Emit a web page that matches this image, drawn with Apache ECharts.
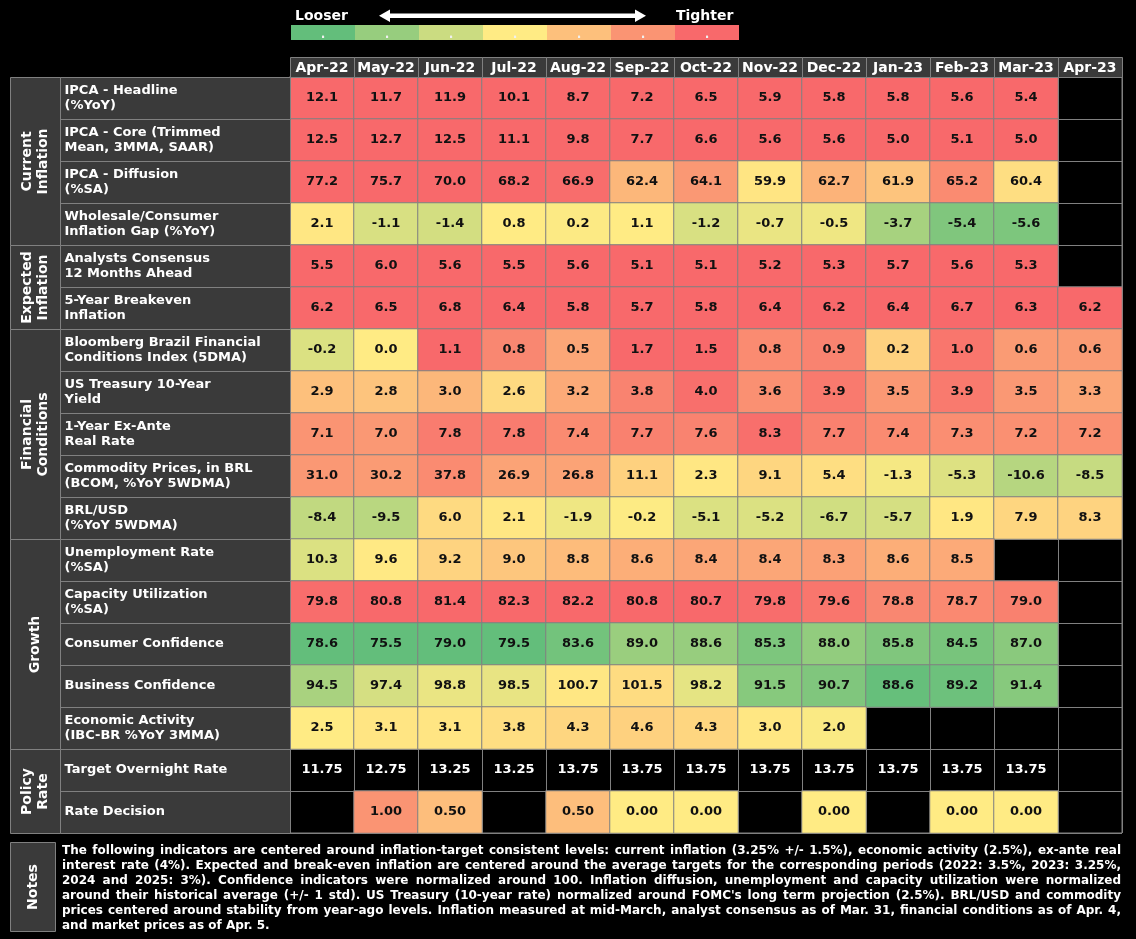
<!DOCTYPE html>
<html><head><meta charset="utf-8">
<script src="https://cdn.jsdelivr.net/npm/echarts@6/dist/echarts.min.js"></script>
<style>html,body{margin:0;padding:0;background:#000;}#chart{width:1136px;height:939px;}</style>
</head><body><div id="chart"></div>
<script>
// ---------- DATA ----------
const months = ['Apr-22','May-22','Jun-22','Jul-22','Aug-22','Sep-22','Oct-22','Nov-22','Dec-22','Jan-23','Feb-23','Mar-23','Apr-23'];

const rowLabels = [
  'IPCA - Headline\n(%YoY)',
  'IPCA - Core (Trimmed\nMean, 3MMA, SAAR)',
  'IPCA - Diffusion\n(%SA)',
  'Wholesale/Consumer\nInflation Gap (%YoY)',
  'Analysts Consensus\n12 Months Ahead',
  '5-Year Breakeven\nInflation',
  'Bloomberg Brazil Financial\nConditions Index (5DMA)',
  'US Treasury 10-Year\nYield',
  '1-Year Ex-Ante\nReal Rate',
  'Commodity Prices, in BRL\n(BCOM, %YoY 5WDMA)',
  'BRL/USD\n(%YoY 5WDMA)',
  'Unemployment Rate\n(%SA)',
  'Capacity Utilization\n(%SA)',
  'Consumer Confidence',
  'Business Confidence',
  'Economic Activity\n(IBC-BR %YoY 3MMA)',
  'Target Overnight Rate',
  'Rate Decision'
];

const groupNames = ['Current\nInflation','Expected\nInflation','Financial\nConditions','Growth','Policy\nRate'];
const groupFirstRow = [0, 4, 6, 11, 16];
const groupLastRow  = [3, 5, 10, 15, 17];

// values (null = not available) and tone (0 = looser/green ... 6 = tighter/red)
const ipcaHeadline      = [12.1,11.7,11.9,10.1,8.7,7.2,6.5,5.9,5.8,5.8,5.6,5.4,null];
const ipcaHeadlineTone  = [6,6,6,6,6,6,6,6,6,6,6,6,null];
const ipcaCore          = [12.5,12.7,12.5,11.1,9.8,7.7,6.6,5.6,5.6,5.0,5.1,5.0,null];
const ipcaCoreTone      = [6,6,6,6,6,6,6,6,6,6,6,6,null];
const ipcaDiffusion     = [77.2,75.7,70.0,68.2,66.9,62.4,64.1,59.9,62.7,61.9,65.2,60.4,null];
const ipcaDiffusionTone = [6,6,6,6,5.9,4.2,4.9,3.15,4.3,3.9,5.2,3.3,null];
const wholesaleGap      = [2.1,-1.1,-1.4,0.8,0.2,1.1,-1.2,-0.7,-0.5,-3.7,-5.4,-5.6,null];
const wholesaleGapTone  = [3.1,2.25,2.15,3.0,2.95,3.0,2.25,2.6,2.7,1.3,0.55,0.5,null];
const analystsCons      = [5.5,6.0,5.6,5.5,5.6,5.1,5.1,5.2,5.3,5.7,5.6,5.3,null];
const analystsConsTone  = [6,6,6,6,6,6,6,6,6,6,6,6,null];
const breakeven5y       = [6.2,6.5,6.8,6.4,5.8,5.7,5.8,6.4,6.2,6.4,6.7,6.3,6.2];
const breakeven5yTone   = [6,6,6,6,6,6,6,6,6,6,6,6,6];
const bbgFci            = [-0.2,0.0,1.1,0.8,0.5,1.7,1.5,0.8,0.9,0.2,1.0,0.6,0.6];
const bbgFciTone        = [2.3,3.0,6,5.3,4.6,6,6,5.2,5.4,3.6,5.7,4.85,4.85];
const ust10y            = [2.9,2.8,3.0,2.6,3.2,3.8,4.0,3.6,3.9,3.5,3.9,3.5,3.3];
const ust10yTone        = [4.0,3.9,4.2,3.4,4.5,5.4,5.85,5.1,5.6,4.9,5.6,4.9,4.6];
const realRate1y        = [7.1,7.0,7.8,7.8,7.4,7.7,7.6,8.3,7.7,7.4,7.3,7.2,7.2];
const realRate1yTone    = [5.0,4.9,5.55,5.55,5.2,5.45,5.4,5.85,5.45,5.2,5.15,5.1,5.1];
const commodityBrl      = [31.0,30.2,37.8,26.9,26.8,11.1,2.3,9.1,5.4,-1.3,-5.3,-10.6,-8.5];
const commodityBrlTone  = [4.9,4.85,5.2,4.65,4.65,3.6,3.1,3.5,3.3,2.8,2.35,1.6,1.9];
const brlUsd            = [-8.4,-9.5,6.0,2.1,-1.9,-0.2,-5.1,-5.2,-6.7,-5.7,1.9,7.9,8.3];
const brlUsdTone        = [1.8,1.65,3.4,3.1,2.7,2.97,2.3,2.3,2.1,2.2,3.1,3.5,3.55];
const unemployment      = [10.3,9.6,9.2,9.0,8.8,8.6,8.4,8.4,8.3,8.6,8.5,null,null];
const unemploymentTone  = [2.3,3.05,3.55,3.85,4.1,4.4,4.6,4.6,4.7,4.4,4.5,null,null];
const capacityUtil      = [79.8,80.8,81.4,82.3,82.2,80.8,80.7,79.8,79.6,78.8,78.7,79.0,null];
const capacityUtilTone  = [5.9,6,6,6,6,6,6,5.9,5.7,5.3,5.25,5.45,null];
const consumerConf      = [78.6,75.5,79.0,79.5,83.6,89.0,88.6,85.3,88.0,85.8,84.5,87.0,null];
const consumerConfTone  = [0,0,0,0,0.3,1.05,1.0,0.5,0.9,0.55,0.4,0.75,null];
const businessConf      = [94.5,97.4,98.8,98.5,100.7,101.5,98.2,91.5,90.7,88.6,89.2,91.4,null];
const businessConfTone  = [1.35,2.2,2.6,2.55,3.1,3.35,2.5,0.7,0.55,0.05,0.2,0.7,null];
const econActivity      = [2.5,3.1,3.1,3.8,4.3,4.6,4.3,3.0,2.0,null,null,null,null];
const econActivityTone  = [3.0,3.15,3.15,3.3,3.5,3.6,3.5,3.1,2.9,null,null,null,null];
const targetRate        = [11.75,12.75,13.25,13.25,13.75,13.75,13.75,13.75,13.75,13.75,13.75,13.75,null];
const targetRateTone    = [null,null,null,null,null,null,null,null,null,null,null,null,null];
const rateDecision      = [null,1.00,0.50,null,0.50,0.00,0.00,null,0.00,null,0.00,0.00,null];
const rateDecisionTone  = [null,5.0,4.05,null,4.05,3.0,3.0,null,3.0,null,3.0,3.0,null];

const rowValues = [ipcaHeadline, ipcaCore, ipcaDiffusion, wholesaleGap, analystsCons, breakeven5y,
  bbgFci, ust10y, realRate1y, commodityBrl, brlUsd, unemployment, capacityUtil, consumerConf,
  businessConf, econActivity, targetRate, rateDecision];
const rowTones = [ipcaHeadlineTone, ipcaCoreTone, ipcaDiffusionTone, wholesaleGapTone, analystsConsTone, breakeven5yTone,
  bbgFciTone, ust10yTone, realRate1yTone, commodityBrlTone, brlUsdTone, unemploymentTone, capacityUtilTone, consumerConfTone,
  businessConfTone, econActivityTone, targetRateTone, rateDecisionTone];
const rowDecimals = [1,1,1,1,1,1,1,1,1,1,1,1,1,1,1,1,2,2];

const scaleSteps = [0,1,2,3,4,5,6];
const scaleColors = ['#63BE7B','#97CD7E','#CBDC81','#FFEB84','#FDC07C','#FA9473','#F8696B'];

const noteLines = [
  'The following indicators are centered around inflation-target consistent levels: current inflation (3.25% +/- 1.5%), economic activity (2.5%), ex-ante real',
  'interest rate (4%). Expected and break-even inflation are centered around the average targets for the corresponding periods (2022: 3.5%, 2023: 3.25%,',
  '2024 and 2025: 3%). Confidence indicators were normalized around 100. Inflation diffusion, unemployment and capacity utilization were normalized',
  "around their historical average (+/- 1 std). US Treasury (10-year rate) normalized around FOMC's long term projection (2.5%). BRL/USD and commodity",
  'prices centered around stability from year-ago levels. Inflation measured at mid-March, analyst consensus as of Mar. 31, financial conditions as of Apr. 4,',
  'and market prices as of Apr. 5.'
];

// ---------- BUILD ----------
const FONT = "'DejaVu Sans', Verdana, sans-serif";
const CELL_BG = '#3a3a3a';
const LINE = '#808080';

const heatData = [];
const plainData = [];
rowValues.forEach((vals, r) => {
  vals.forEach((v, c) => {
    if (v === null) return;
    const t = rowTones[r][c];
    const txt = v.toFixed(rowDecimals[r]);
    if (t === null) plainData.push([c, r, txt]);
    else heatData.push([c, r, t, txt]);
  });
});

const chart = echarts.init(document.getElementById('chart'), null, {renderer: 'canvas'});

const hiddenAxis = (extra) => Object.assign({show: false}, extra);

// notes with justified lines
const measureCtx = document.createElement('canvas').getContext('2d');
const noteLeft = 62, noteRight = 1121, noteTop = 851, noteLH = 15;
let noteSize = 12;
let noteFont = 'bold ' + noteSize + 'px ' + FONT;
measureCtx.font = noteFont;
const maxNatural = Math.max.apply(null, noteLines.slice(0, -1).map(l => measureCtx.measureText(l).width));
if (maxNatural > noteRight - noteLeft) {
  noteSize = Math.floor(noteSize * (noteRight - noteLeft) / maxNatural * 10) / 10;
  noteFont = 'bold ' + noteSize + 'px ' + FONT;
  measureCtx.font = noteFont;
}
const noteGraphics = [];
noteLines.forEach((line, i) => {
  const words = line.split(' ');
  const y = noteTop + i * noteLH;
  const widths = words.map(w => measureCtx.measureText(w).width);
  const total = widths.reduce((a, b) => a + b, 0);
  const isLast = i === noteLines.length - 1;
  const space = isLast ? measureCtx.measureText(' ').width : (noteRight - noteLeft - total) / (words.length - 1);
  let x = noteLeft;
  words.forEach((w, k) => {
    noteGraphics.push({type: 'text', x: x, y: y, style: {text: w, fill: '#fff', font: noteFont, verticalAlign: 'middle', align: 'left'}});
    x += widths[k] + space;
  });
});

const option = {
  backgroundColor: '#000',
  animation: false,
  grid: [
    {left: 290, top: 77, width: 832, height: 756, show: true, borderColor: LINE, borderWidth: 1, backgroundColor: 'transparent'},
    {left: 60, top: 77, width: 230, height: 756},
    {left: 10, top: 77, width: 50, height: 756},
    {left: 290, top: 57, width: 832, height: 20},
    {left: 291, top: 25, width: 448, height: 15}
  ],
  xAxis: [
    {type: 'category', gridIndex: 0, data: months, axisLine: {show: false}, axisTick: {show: false}, axisLabel: {show: false},
     splitLine: {show: true, interval: 0, lineStyle: {color: LINE, width: 1}}},
    hiddenAxis({type: 'category', gridIndex: 1, data: ['label']}),
    hiddenAxis({type: 'category', gridIndex: 2, data: ['group']}),
    hiddenAxis({type: 'category', gridIndex: 3, data: months}),
    hiddenAxis({type: 'category', gridIndex: 4, data: scaleSteps.map(String)})
  ],
  yAxis: [
    {type: 'category', gridIndex: 0, data: rowLabels, inverse: true, axisLine: {show: false}, axisTick: {show: false}, axisLabel: {show: false},
     splitLine: {show: true, interval: 0, lineStyle: {color: LINE, width: 1}}},
    hiddenAxis({type: 'category', gridIndex: 1, data: rowLabels, inverse: true}),
    hiddenAxis({type: 'category', gridIndex: 2, data: rowLabels, inverse: true}),
    hiddenAxis({type: 'category', gridIndex: 3, data: ['header']}),
    hiddenAxis({type: 'category', gridIndex: 4, data: ['scale']})
  ],
  visualMap: {
    type: 'continuous', show: false, min: 0, max: 6, dimension: 2, seriesIndex: [0, 5],
    inRange: {color: scaleColors}
  },
  series: [
    {
      type: 'heatmap', xAxisIndex: 0, yAxisIndex: 0, data: heatData,
      itemStyle: {borderColor: LINE, borderWidth: 1},
      label: {show: true, formatter: p => p.value[3], color: '#111', fontFamily: FONT, fontWeight: 'bold', fontSize: 13},
      emphasis: {disabled: true}
    },
    {
      type: 'custom', xAxisIndex: 0, yAxisIndex: 0, data: plainData, encode: {x: 0, y: 1},
      renderItem: (params, api) => {
        const c = api.coord([api.value(0), api.value(1)]);
        return {type: 'text', x: c[0], y: c[1], style: {text: plainData[params.dataIndex][2], fill: '#fff',
          fontFamily: FONT, fontWeight: 'bold', fontSize: 13, align: 'center', verticalAlign: 'middle'}};
      }
    },
    {
      type: 'custom', xAxisIndex: 1, yAxisIndex: 1, data: rowLabels.map((l, i) => [0, i]), encode: {x: 0, y: 1},
      renderItem: (params, api) => {
        const c = api.coord([0, api.value(1)]);
        const s = api.size([1, 1]);
        const x = Math.round(c[0] - s[0] / 2) + 0.5, y = Math.round(c[1] - s[1] / 2) + 0.5;
        return {type: 'group', children: [
          {type: 'rect', shape: {x: x, y: y, width: s[0], height: s[1]}, style: {fill: CELL_BG, stroke: LINE, lineWidth: 1}},
          {type: 'text', x: x + 4, y: c[1], style: {text: rowLabels[params.dataIndex], fill: '#fff', fontFamily: FONT,
            fontWeight: 'bold', fontSize: 13, lineHeight: 15, align: 'left', verticalAlign: 'middle'}}
        ]};
      }
    },
    {
      type: 'custom', xAxisIndex: 2, yAxisIndex: 2, data: groupNames.map((g, i) => [0, groupFirstRow[i], groupLastRow[i]]),
      encode: {x: 0, y: [1, 2]},
      renderItem: (params, api) => {
        const a = api.coord([0, api.value(1)]);
        const b = api.coord([0, api.value(2)]);
        const s = api.size([1, 1]);
        const x = Math.round(a[0] - s[0] / 2) + 0.5;
        const y = Math.round(a[1] - s[1] / 2) + 0.5;
        const h = Math.round(b[1] + s[1] / 2) - Math.round(a[1] - s[1] / 2);
        return {type: 'group', children: [
          {type: 'rect', shape: {x: x, y: y, width: s[0], height: h}, style: {fill: CELL_BG, stroke: LINE, lineWidth: 1}},
          {type: 'text', x: a[0], y: y + h / 2, rotation: Math.PI / 2, style: {text: groupNames[params.dataIndex], fill: '#fff',
            fontFamily: FONT, fontWeight: 'bold', fontSize: 14, lineHeight: 16, align: 'center', verticalAlign: 'middle'}}
        ]};
      }
    },
    {
      type: 'custom', xAxisIndex: 3, yAxisIndex: 3, data: months.map((m, i) => [i, 0]), encode: {x: 0, y: 1},
      renderItem: (params, api) => {
        const c = api.coord([api.value(0), 0]);
        const s = api.size([1, 1]);
        const x = Math.round(c[0] - s[0] / 2) + 0.5, y = Math.round(c[1] - s[1] / 2) + 0.5;
        return {type: 'group', children: [
          {type: 'rect', shape: {x: x, y: y, width: s[0], height: s[1]}, style: {fill: CELL_BG, stroke: LINE, lineWidth: 1}},
          {type: 'text', x: c[0], y: c[1] + 1, style: {text: months[params.dataIndex], fill: '#fff', fontFamily: FONT,
            fontWeight: 'bold', fontSize: 14, align: 'center', verticalAlign: 'middle'}}
        ]};
      }
    },
    {
      type: 'custom', xAxisIndex: 4, yAxisIndex: 4, data: scaleSteps.map((v, i) => [i, 0, v]), encode: {x: 0, y: 1},
      renderItem: (params, api) => {
        const c = api.coord([api.value(0), 0]);
        const s = api.size([1, 1]);
        return {type: 'group', children: [
          {type: 'rect', shape: {x: c[0] - s[0] / 2, y: c[1] - s[1] / 2, width: s[0], height: s[1]}, style: {fill: api.visual('color')}},
          {type: 'text', x: c[0], y: c[1] + 2, style: {text: '.', fill: '#f0f0f0', fontFamily: FONT, fontWeight: 'bold', fontSize: 12,
            align: 'center', verticalAlign: 'middle'}}
        ]};
      }
    }
  ],
  graphic: [
    {type: 'text', x: 295, y: 16, style: {text: 'Looser', fill: '#fff', font: 'bold 14px ' + FONT, verticalAlign: 'middle'}},
    {type: 'text', x: 676, y: 16, style: {text: 'Tighter', fill: '#fff', font: 'bold 14px ' + FONT, verticalAlign: 'middle'}},
    {type: 'polygon', shape: {points: [[379,15.75],[390,9.5],[390,13.5],[635,13.5],[635,9.5],[646,15.75],[635,22],[635,18],[390,18],[390,22]]},
     style: {fill: '#fff'}},
    {type: 'rect', shape: {x: 10.5, y: 842.5, width: 45, height: 89}, style: {fill: CELL_BG, stroke: LINE, lineWidth: 1}},
    {type: 'text', x: 33, y: 887, rotation: Math.PI / 2, style: {text: 'Notes', fill: '#fff', font: 'bold 14px ' + FONT,
      align: 'center', verticalAlign: 'middle'}}
  ].concat(noteGraphics)
};
chart.setOption(option);
</script>
</body></html>
